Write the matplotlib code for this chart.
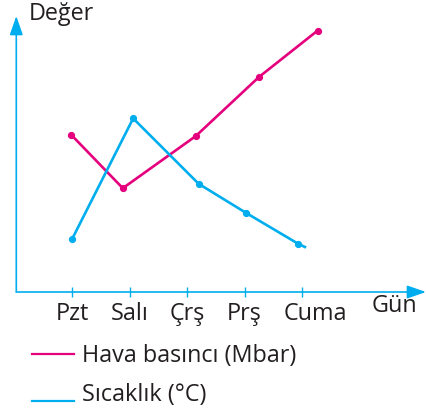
import matplotlib
matplotlib.use("Agg")
import matplotlib.pyplot as plt
from matplotlib.lines import Line2D
from matplotlib import transforms

plt.rcParams['font.family'] = ['Open Sans', 'DejaVu Sans']

# data (x as day position, as drawn in the sketch)
gunler = ['Pzt', 'Salı', 'Çrş', 'Prş', 'Cuma']
basinc_x = [-0.02, 0.88, 2.15, 3.25, 4.27]
basinc_y = [5.70, 3.76, 5.65, 7.79, 9.47]
sicaklik_x = [0.0, 1.06, 2.20, 3.03, 3.93, 4.07]
sicaklik_y = [1.93, 6.29, 3.92, 2.86, 1.75, 1.61]

pembe = '#E5007D'
mavi = '#00AEEF'
metin = '#231F20'
fs = 16.8

fig = plt.figure(figsize=(4.26, 4.20), dpi=100)
ax = fig.add_axes([16.3 / 426, 1 - 292 / 420, 1 - 16.3 / 426, 276 / 420])
ax.set_xlim(-0.974, 6.157)
ax.set_ylim(0, 10)
for s in ax.spines.values():
    s.set_visible(False)

ax.plot(basinc_x, basinc_y, color=pembe, lw=1.9, marker='o', ms=4.2,
        solid_capstyle='butt', clip_on=False)
ax.plot(sicaklik_x, sicaklik_y, color=mavi, lw=1.9, marker='o', ms=4.2,
        markevery=[0, 1, 2, 3, 4], solid_capstyle='butt', clip_on=False)

# axis arrows
ok = dict(arrowstyle='-|>,head_length=1.15,head_width=0.4', color=mavi, lw=1.2,
          mutation_scale=10, shrinkA=0, shrinkB=0)
ax.annotate('', xy=(0, 1), xytext=(0, 0), xycoords='axes fraction', arrowprops=ok)
ax.annotate('', xy=(1, 0), xytext=(0, 0), xycoords='axes fraction', arrowprops=ok)

ax.set_xticks(range(len(gunler)))
ax.set_xticklabels(gunler, fontsize=fs, color=metin)
ax.tick_params(axis='x', direction='inout', length=7, width=1, color=mavi, pad=4)
ax.set_yticks([])
# Cuma label sits a bit to the right of its tick
etiket = ax.get_xticklabels()[-1]
etiket.set_transform(etiket.get_transform() + transforms.ScaledTranslation(13 / 100, 0, fig.dpi_scale_trans))

fig.text(29 / 426, 1 - 14 / 420, 'Değer', fontsize=fs, color=metin, va='center', ha='left')
fig.text(372 / 426, 1 - 306 / 420, 'Gün', fontsize=fs, color=metin, va='center', ha='left')

# legend
fig.add_artist(Line2D([32 / 426, 74 / 426], [1 - 354 / 420] * 2, color=pembe, lw=1.6))
fig.add_artist(Line2D([32 / 426, 74 / 426], [1 - 401 / 420] * 2, color=mavi, lw=1.6))
fig.text(82 / 426, 1 - 356 / 420, 'Hava basıncı (Mbar)', fontsize=fs, color=metin, va='center', ha='left')
fig.text(82 / 426, 1 - 395 / 420, 'Sıcaklık (°C)', fontsize=fs, color=metin, va='center', ha='left')

fig.savefig('out.png', dpi=100)
